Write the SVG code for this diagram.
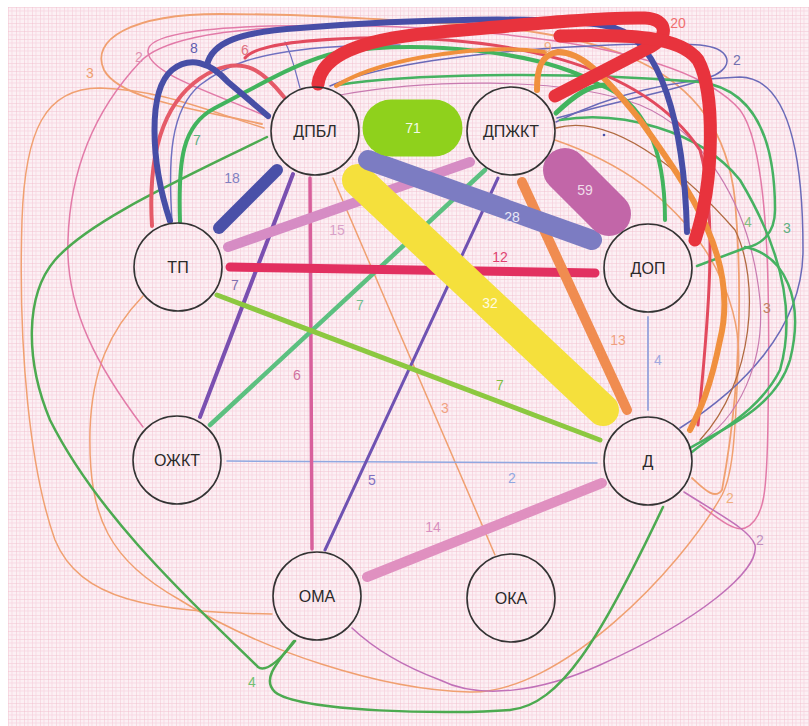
<svg xmlns="http://www.w3.org/2000/svg" width="809" height="726" viewBox="0 0 809 726">
<defs>
<pattern id="grid" x="8" y="7" width="8" height="8" patternUnits="userSpaceOnUse">
<rect width="8" height="8" fill="#fcf0f4"/>
<path d="M0 0H8M0 0V8" stroke="#f2bccd" stroke-width="0.9" fill="none"/>
<path d="M0 4H8M4 0V8" stroke="#f6d2de" stroke-width="0.7" fill="none"/>
</pattern>
<style>
.e{fill:none;stroke-linecap:round;stroke-linejoin:round}
.lb{font-family:"Liberation Sans",Arial,sans-serif;font-size:14px;text-anchor:middle;dominant-baseline:central}
.n circle{fill:none;stroke:#333;stroke-width:1.6}
.n text{font-family:"Liberation Sans",Arial,sans-serif;font-size:16px;fill:#2a2a2a;text-anchor:middle;dominant-baseline:central}
</style>
</defs>
<rect x="0" y="0" width="809" height="726" fill="#ffffff"/>
<rect x="8" y="7" width="801" height="719" fill="url(#grid)"/>
<g id="connectors">
<path class="e" stroke="#f0a070" stroke-width="1.8" d="M262,124 C200,110 120,100 104,70 C90,40 130,14 220,14 C300,14 360,18 420,22 C600,30 720,60 735,200 C745,320 735,420 722,490 C715,500 705,490 692,478"/>
<path class="e" stroke="#f0a070" stroke-width="1.5" d="M264,128 C200,108 160,90 100,88 C45,88 25,130 22,220 C18,350 30,470 55,540 C80,600 150,612 272,614"/>
<path class="e" stroke="#f0a070" stroke-width="1.5" d="M143,296 C110,330 92,370 90,430 C88,520 110,560 180,600 C260,650 380,690 470,692 C560,694 680,570 722,495 C735,470 735,420 738,370 C745,300 700,190 555,140"/>
<path class="e" stroke="#e27aa8" stroke-width="1.5" d="M270,118 C220,95 150,75 148,52 C146,35 200,28 270,26 C450,22 680,40 740,110 C770,150 770,300 768,420 C767,490 765,520 745,528 C735,532 720,520 700,505"/>
<path class="e" stroke="#e27aa8" stroke-width="1.5" d="M143,427 C100,370 65,310 68,240 C70,170 95,110 140,62 C160,40 220,30 280,28"/>
<path class="e" stroke="#c070b8" stroke-width="1.5" d="M684,492 C720,515 750,530 755,545 C760,570 700,620 600,665 C540,692 480,700 440,680 C400,665 370,645 352,628"/>
<path class="e" stroke="#6a6ab8" stroke-width="1.5" d="M556,122 C600,100 660,80 740,77 C790,78 803,160 803,250 C803,330 740,390 680,428"/>
<path class="e" stroke="#6a6ab8" stroke-width="1.5" d="M330,86 C400,55 600,40 700,45 C730,48 735,65 715,75 C680,90 620,100 557,118"/>
<path class="e" stroke="#b06a40" stroke-width="1.3" d="M556,128 C620,110 700,190 735,230 C760,280 755,380 700,440"/>
<path class="e" stroke="#c87ab0" stroke-width="1.2" d="M340,95 C420,80 560,75 640,105 C700,130 750,200 760,300 C765,360 740,420 695,445"/>
<path class="e" stroke="#7070c0" stroke-width="1.5" d="M172,221 C168,160 170,110 200,85 C230,62 260,55 300,50 C330,46 360,45 400,45"/>
<path class="e" stroke="#7070c0" stroke-width="1.2" d="M300,88 C295,70 292,55 285,42"/>
<path class="e" stroke="#4caa50" stroke-width="2.5" d="M267,137 C180,180 90,220 55,260 C25,295 25,360 50,420 C100,520 200,610 258,667 C266,673 280,660 295,641"/>
<path class="e" stroke="#4caa50" stroke-width="2.5" d="M294,641 C275,665 262,680 275,692 C300,712 450,715 510,710 C560,705 600,640 663,507"/>
<path class="e" stroke="#46b262" stroke-width="2.5" d="M338,85 C400,75 550,70 700,82 C760,90 775,150 775,210 C775,235 760,245 745,248 L697,266"/>
<path class="e" stroke="#46b262" stroke-width="2.5" d="M745,247 C785,255 805,300 790,360 C775,410 720,430 690,448"/>
<path class="e" stroke="#46b262" stroke-width="2.5" d="M560,120 C620,110 700,130 740,180 C770,230 800,300 780,370 C760,410 720,430 692,452"/>
<path class="e" stroke="#e55a68" stroke-width="4" d="M152,226 C148,160 160,95 215,70 C245,58 262,70 284,97"/>
<path class="e" stroke="#e24a5e" stroke-width="3" d="M245,58 C255,45 300,40 360,38 C500,35 640,60 700,150 C720,220 705,350 698,425"/>
<path class="e" stroke="#42b45e" stroke-width="4" d="M180,222 C178,160 182,125 215,108 C260,85 300,60 340,52 C420,40 540,50 600,85 C640,100 665,140 665,220"/>
<path class="e" stroke="#42b45e" stroke-width="5" d="M556,113 C575,95 590,85 605,85"/>
<path class="e" stroke="#f0903e" stroke-width="6" d="M537,90 C537,70 540,55 558,52 C580,52 600,70 640,120 C690,190 740,260 720,340 C710,390 700,410 690,430"/>
<path class="e" stroke="#f0903e" stroke-width="4" d="M336,86 C370,65 420,55 480,50 C510,48 530,50 545,52"/>
<path class="e" stroke="#474ea6" stroke-width="6" d="M170,221 C150,160 148,90 172,70 C190,56 210,62 228,82 L268,116"/>
<path class="e" stroke="#474ea6" stroke-width="6" d="M207,65 C212,42 240,32 300,28 C400,20 560,14 615,28 C660,42 684,120 687,232"/>
<path class="e" stroke="#e8333d" stroke-width="13" d="M318,84 C322,55 360,40 430,33 C520,25 600,17 645,18 C668,19 670,38 648,48 L555,96"/>
<path class="e" stroke="#e8333d" stroke-width="13" d="M560,36 C630,34 680,36 698,60 C715,90 715,180 695,240"/>
<line class="e" stroke="#f0a070" stroke-width="1.5" x1="333" y1="178" x2="495" y2="555"/>
<line class="e" stroke="#90a8e0" stroke-width="1.5" x1="227" y1="461" x2="597" y2="463"/>
<line class="e" stroke="#a0a8dc" stroke-width="2" x1="648" y1="317" x2="648" y2="410"/>
<line class="e" stroke="#6f52b2" stroke-width="3" x1="498" y1="178" x2="325" y2="550"/>
<line class="e" stroke="#d8609c" stroke-width="3.5" x1="310" y1="178" x2="312" y2="549"/>
<line class="e" stroke="#5cc080" stroke-width="4.5" x1="210" y1="425" x2="485" y2="170"/>
<line class="e" stroke="#7a4fb0" stroke-width="4" x1="293" y1="174" x2="200" y2="417"/>
<line class="e" stroke="#8cc840" stroke-width="5" x1="217" y1="295" x2="600" y2="440"/>
<line class="e" stroke="#d68cc4" stroke-width="10" x1="228" y1="247" x2="470" y2="162"/>
<line class="e" stroke="#e23060" stroke-width="9" x1="230" y1="267" x2="595" y2="273"/>
<line class="e" stroke="#f08c50" stroke-width="10" x1="522" y1="182" x2="627" y2="410"/>
<line class="e" stroke="#e090c0" stroke-width="10" x1="367" y1="577" x2="602" y2="483"/>
<line class="e" stroke="#4a50a8" stroke-width="12" x1="277" y1="170" x2="219" y2="228"/>
<line class="e" stroke="#f5e03c" stroke-width="32" x1="358" y1="180" x2="603" y2="410"/>
<line class="e" stroke="#7c7cc2" stroke-width="20" x1="368" y1="160" x2="592" y2="240"/>
<line class="e" stroke="#c266a8" stroke-width="44" x1="565" y1="170" x2="609" y2="214"/>
<line class="e" stroke="#8fd11c" stroke-width="57" x1="391" y1="128" x2="434" y2="128"/>
<circle cx="604" cy="135" r="1.3" fill="#4a50a8"/>
<g id="edge-labels">
<text class="lb" x="413" y="128" fill="#f4fbe6">71</text>
<text class="lb" x="585" y="190" fill="#f0dcea">59</text>
<text class="lb" x="512" y="217" fill="#e8e8f6">28</text>
<text class="lb" x="490" y="303" fill="#fffbe0">32</text>
<text class="lb" x="618" y="340" fill="#f0a080">13</text>
<text class="lb" x="500" y="257" fill="#e04070">12</text>
<text class="lb" x="337" y="230" fill="#d8a0c8">15</text>
<text class="lb" x="232" y="178" fill="#7f80c0">18</text>
<text class="lb" x="500" y="385" fill="#80c040">7</text>
<text class="lb" x="235" y="285" fill="#8070b0">7</text>
<text class="lb" x="360" y="305" fill="#70c090">7</text>
<text class="lb" x="297" y="375" fill="#d070a0">6</text>
<text class="lb" x="372" y="480" fill="#8070c0">5</text>
<text class="lb" x="445" y="408" fill="#f0a080">3</text>
<text class="lb" x="658" y="360" fill="#a0a8e0">4</text>
<text class="lb" x="512" y="478" fill="#90a8e0">2</text>
<text class="lb" x="433" y="527" fill="#d890c0">14</text>
<text class="lb" x="678" y="23" fill="#f07070">20</text>
<text class="lb" x="548" y="47" fill="#f0b080">9</text>
<text class="lb" x="737" y="60" fill="#7070b0">2</text>
<text class="lb" x="748" y="222" fill="#80c080">4</text>
<text class="lb" x="787" y="228" fill="#60b080">3</text>
<text class="lb" x="767" y="308" fill="#c08060">3</text>
<text class="lb" x="730" y="498" fill="#f0b080">2</text>
<text class="lb" x="760" y="540" fill="#c090c0">2</text>
<text class="lb" x="194" y="48" fill="#6060b0">8</text>
<text class="lb" x="245" y="50" fill="#e07080">6</text>
<text class="lb" x="197" y="140" fill="#60b080">7</text>
<text class="lb" x="90" y="73" fill="#f0a070">3</text>
<text class="lb" x="139" y="57" fill="#e090b0">2</text>
<text class="lb" x="252" y="682" fill="#70c070">4</text>
</g>
</g>
<g id="node-dpbl" class="n"><circle cx="315" cy="131" r="44"/><text x="315" y="131">ДПБЛ</text></g>
<g id="node-dpzhkt" class="n"><circle cx="511" cy="131" r="44"/><text x="511" y="131">ДПЖКТ</text></g>
<g id="node-tp" class="n"><circle cx="178" cy="267" r="44"/><text x="178" y="267">ТП</text></g>
<g id="node-dop" class="n"><circle cx="648" cy="268" r="44"/><text x="648" y="268">ДОП</text></g>
<g id="node-ozhkt" class="n"><circle cx="177" cy="460" r="44"/><text x="177" y="460">ОЖКТ</text></g>
<g id="node-d" class="n"><circle cx="648" cy="461" r="44"/><text x="648" y="461">Д</text></g>
<g id="node-oma" class="n"><circle cx="317" cy="596" r="44"/><text x="317" y="596">ОМА</text></g>
<g id="node-oka" class="n"><circle cx="511" cy="598" r="44"/><text x="511" y="598">ОКА</text></g>
</svg>
